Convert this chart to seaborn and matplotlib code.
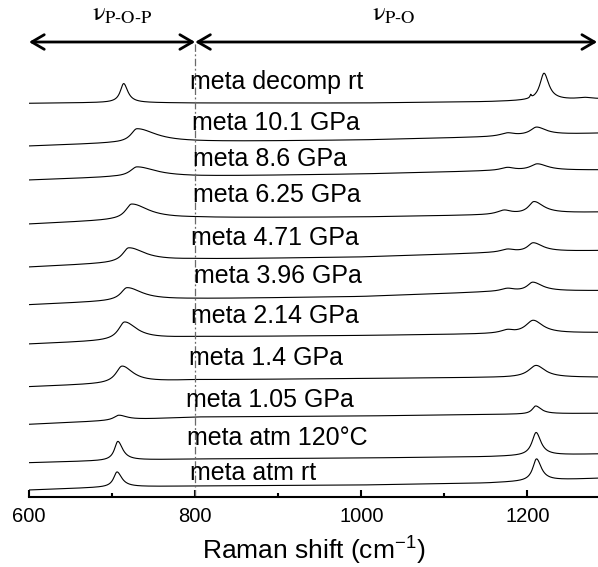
import numpy as np
import pandas as pd
import matplotlib
matplotlib.use('Agg')
import matplotlib.pyplot as plt
from matplotlib.ticker import MultipleLocator
import seaborn as sns

# 各条谱线: 标签、基线锚点、峰参数 (位置, 高度, 左半宽, 右半宽)
labels = ['meta decomp rt', 'meta 10.1 GPa', 'meta 8.6 GPa', 'meta 6.25 GPa',
          'meta 4.71 GPa', 'meta 3.96 GPa', 'meta 2.14 GPa', 'meta 1.4 GPa',
          'meta 1.05 GPa', 'meta atm 120°C', 'meta atm rt']

base_x = [600, 700, 800, 1000, 1150, 1285]
baselines = [
    [393.7, 394.5, 394.0, 394.0, 395.3, 398.0],
    [351.0, 354.0, 355.0, 357.0, 360.0, 363.7],
    [317.0, 320.0, 320.5, 323.0, 326.0, 327.0],
    [273.0, 277.0, 279.0, 280.0, 282.0, 284.7],
    [230.0, 234.0, 237.5, 240.0, 244.0, 246.3],
    [192.3, 196.0, 198.0, 200.5, 205.0, 206.3],
    [153.0, 156.5, 160.0, 161.5, 163.0, 164.3],
    [110.3, 113.5, 117.0, 118.5, 119.5, 119.7],
    [72.7, 76.5, 80.0, 81.0, 82.5, 83.7],
    [34.3, 36.5, 38.0, 39.0, 40.3, 43.0],
    [7.0, 10.0, 11.0, 12.0, 14.0, 18.7],
]

peaks = [
    [(714, 19, 5, 6), (1204, 3, 1, 1), (1220, 27, 6, 7), (1269, 1.5, 10, 10)],
    [(730, 14, 9, 28), (1176, 3, 10, 10), (1211, 8, 9, 14)],
    [(730, 10, 10, 28), (1176, 3, 10, 10), (1212, 6.5, 10, 15)],
    [(723.5, 15.5, 9, 25), (1172, 4, 10, 10), (1208, 12, 8, 14)],
    [(720, 14.5, 9, 24), (1176, 3, 10, 10), (1207, 9, 8, 14)],
    [(718, 13, 9, 22), (1176, 3, 10, 10), (1206.5, 9, 8, 14)],
    [(715, 18, 9, 18), (1176, 3, 10, 8), (1207, 13, 11, 14)],
    [(712, 17, 9, 16), (1210.5, 12, 11, 13)],
    [(708, 5, 7, 12), (1210, 8, 5, 8)],
    [(707, 19, 5, 7), (1210.5, 23, 6, 7)],
    [(706, 15, 5, 7), (1211, 22, 5.5, 7)],
]

# 标签位置 (左端波数, 基线高度)
label_x = [793.7, 795.7, 797, 797, 794.5, 799, 794.5, 793, 788.5, 790, 793.7]
label_y = [407.7, 367, 331.3, 295.3, 252, 214, 174, 132, 90.3, 52, 17]

# 生成谱线
x = np.arange(600, 1285.5, 0.5)
rows = []
for i, lab in enumerate(labels):
    y = np.interp(x, base_x, baselines[i])
    for c, h, wl, wr in peaks[i]:
        w = np.where(x < c, wl, wr)
        y = y + h / (1 + ((x - c) / w) ** 2)
    rows.append(pd.DataFrame({'x': x, 'y': y, 'trace': lab}))
data = pd.concat(rows, ignore_index=True)

sns.set_theme(style='white')
plt.rcParams['font.family'] = ['Liberation Sans', 'DejaVu Sans']
plt.rcParams['text.color'] = 'black'
plt.rcParams['axes.labelcolor'] = 'black'
plt.rcParams['xtick.color'] = 'black'

fig = plt.figure(figsize=(5.98, 5.67), dpi=100)
ax = fig.add_axes([29 / 598, 70 / 567, 569 / 598, 497 / 567])

sns.lineplot(data=data, x='x', y='y', units='trace', estimator=None,
             color='black', lw=0.8, ax=ax, legend=False)

for lab, lx, ly in zip(labels, label_x, label_y):
    ax.text(lx, ly, lab, fontsize=18, va='baseline', ha='left', color='black')

# 分区虚线和箭头
ax.plot([800, 800], [0, 455], color='dimgray', lw=0.9,
        linestyle=(0, (6, 2, 1.5, 2)))
arrow = dict(arrowstyle='<->, head_length=0.6, head_width=0.35', lw=2,
             color='black', shrinkA=0, shrinkB=0, mutation_scale=15)
ax.annotate('', xy=(600, 455), xytext=(800, 455), arrowprops=arrow,
            annotation_clip=False)
ax.annotate('', xy=(800, 455), xytext=(1284, 455), arrowprops=arrow,
            annotation_clip=False)
ax.text(712, 477, r'$\mathrm{\nu}_{\text{P-O-P}}$', fontsize=19, ha='center',
        va='baseline', math_fontfamily='stix', color='black')
ax.text(1039, 477, r'$\mathrm{\nu}_{\text{P-O}}$', fontsize=19, ha='center',
        va='baseline', math_fontfamily='stix', color='black')

ax.set_xlim(600, 1285)
ax.set_ylim(0, 497)
ax.set_yticks([])
ax.set_ylabel('')
ax.set_xticks([600, 800, 1000, 1200])
ax.xaxis.set_minor_locator(MultipleLocator(100))
ax.tick_params(axis='x', which='major', direction='in', length=5, width=1.5,
               labelsize=14.5, pad=7, bottom=True, colors='black')
ax.tick_params(axis='x', which='minor', direction='in', length=3, width=1.5,
               bottom=True, colors='black')
for s in ['left', 'top', 'right']:
    ax.spines[s].set_visible(False)
ax.spines['bottom'].set_linewidth(1.5)
ax.spines['bottom'].set_color('black')
ax.set_xlabel(r'Raman shift (cm$^{\mathregular{-1}}$)', fontsize=19, labelpad=5,
              color='black')

fig.savefig('out.png', dpi=100)
